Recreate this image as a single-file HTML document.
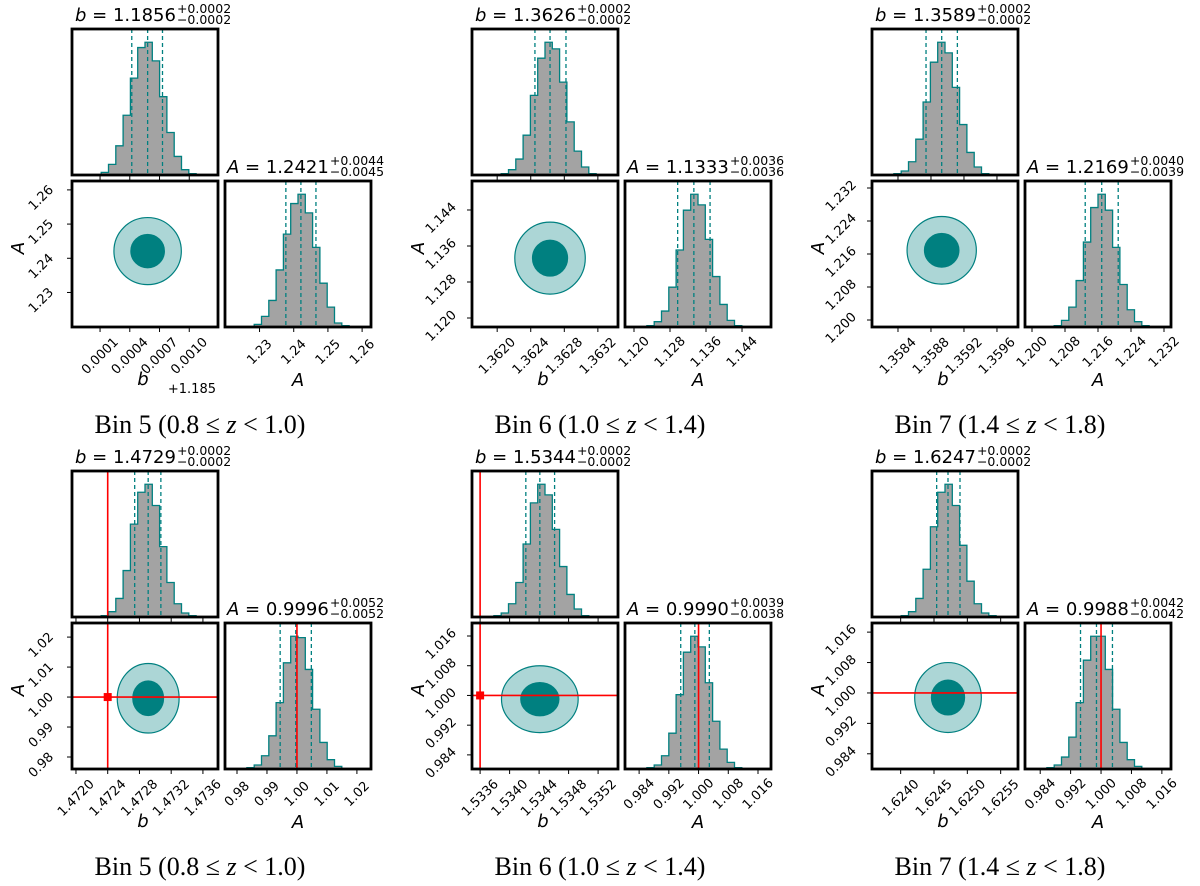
<!DOCTYPE html>
<html><head><meta charset="utf-8">
<style>
html,body{margin:0;padding:0;background:#fff;}
svg{display:block;}
text{font-family:"DejaVu Sans","Liberation Sans",sans-serif;}
.bin{font-family:"Liberation Serif",serif;font-size:26px;}
</style></head>
<body>
<svg id="fig" width="1200" height="886" viewBox="0 0 1200 886" xmlns="http://www.w3.org/2000/svg"></svg>
<script>
// ---- data (per panel) ----
const panelNames = ["bin5-a","bin6-a","bin7-a","bin5-b","bin6-b","bin7-b"];
const binLabels = [["Bin 5 (0.8 ≤ ","z"," < 1.0)"],["Bin 6 (1.0 ≤ ","z"," < 1.4)"],["Bin 7 (1.4 ≤ ","z"," < 1.8)"],["Bin 5 (0.8 ≤ ","z"," < 1.0)"],["Bin 6 (1.0 ≤ ","z"," < 1.4)"],["Bin 7 (1.4 ≤ ","z"," < 1.8)"]];
const bDomains = [[1.184817,1.18629],[1.3617,1.36344],[1.358085,1.359855],[1.47195,1.47379],[1.53349,1.53547],[1.62357,1.62576]];
const aDomains = [[1.2199,1.2626],[1.118,1.15044],[1.1983,1.2337],[0.976,1.0247],[0.9802,1.0195],[0.980,1.0184]];
const bTicks = [[1.1851,1.1854,1.1857,1.1860],[1.3620,1.3624,1.3628,1.3632],[1.3584,1.3588,1.3592,1.3596],[1.4720,1.4724,1.4728,1.4732,1.4736],[1.5336,1.5340,1.5344,1.5348,1.5352],[1.6240,1.6245,1.6250,1.6255]];
const bTickLabels = [["0.0001","0.0004","0.0007","0.0010"],["1.3620","1.3624","1.3628","1.3632"],["1.3584","1.3588","1.3592","1.3596"],["1.4720","1.4724","1.4728","1.4732","1.4736"],["1.5336","1.5340","1.5344","1.5348","1.5352"],["1.6240","1.6245","1.6250","1.6255"]];
const bOffsetText = ["+1.185","","","","",""];
const aTicks = [[1.23,1.24,1.25,1.26],[1.120,1.128,1.136,1.144],[1.200,1.208,1.216,1.224,1.232],[0.98,0.99,1.00,1.01,1.02],[0.984,0.992,1.000,1.008,1.016],[0.984,0.992,1.000,1.008,1.016]];
const aTickLabels = [["1.23","1.24","1.25","1.26"],["1.120","1.128","1.136","1.144"],["1.200","1.208","1.216","1.224","1.232"],["0.98","0.99","1.00","1.01","1.02"],["0.984","0.992","1.000","1.008","1.016"],["0.984","0.992","1.000","1.008","1.016"]];
const bQuantiles = [[1.18542,1.18558,1.18573],[1.36245,1.36263,1.36282],[1.35874,1.35893,1.35912],[1.47274,1.47291,1.47307],[1.53422,1.53441,1.53461],[1.62454,1.62471,1.62489]];
const aQuantiles = [[1.2377,1.2421,1.2465],[1.1297,1.1333,1.1369],[1.2129,1.2169,1.2209],[0.9944,0.9996,1.0048],[0.9952,0.9990,1.0029],[0.9946,0.9988,1.0030]];
const bTitles = [["1.1856","+0.0002","−0.0002"],["1.3626","+0.0002","−0.0002"],["1.3589","+0.0002","−0.0002"],["1.4729","+0.0002","−0.0002"],["1.5344","+0.0002","−0.0002"],["1.6247","+0.0002","−0.0002"]];
const aTitles = [["1.2421","+0.0044","−0.0045"],["1.1333","+0.0036","−0.0036"],["1.2169","+0.0040","−0.0039"],["0.9996","+0.0052","−0.0052"],["0.9990","+0.0039","−0.0038"],["0.9988","+0.0042","−0.0042"]];
const contourB = [0.00017,0.00021,0.00021,0.000195,0.00026,0.00025];
const contourA = [0.0049,0.0040,0.0041,0.0058,0.0045,0.0046];
const truthB = [null,null,null,1.47240,1.53360,null];
const truthA = [null,null,null,1.000,1.000,1.000];
const hist_b_p1 = [0,0,0,0,2,8,22,45,73,96,100,86,59,32,14,4,1,0,0,0];
const hist_a_p1 = [0,0,0,0,2,8,20,43,70,93,100,86,60,33,15,3,1,0,0,0];
const hist_b_p2 = [0,0,0,0,1,4,12,30,60,88,100,95,70,40,18,6,1,0,0,0];
const hist_a_p2 = [0,0,0,1,4,12,30,58,88,100,92,66,38,17,5,1,0,0,0,0];
const hist_b_p3 = [0,0,0,1,3,10,27,55,85,100,92,66,38,17,6,1,0,0,0,0];
const hist_a_p3 = [0,0,0,0,1,5,15,35,64,90,100,88,60,32,13,4,1,0,0,0];
const hist_b_p4 = [0,0,0,0,1,4,14,35,70,94,100,84,53,26,10,3,1,0,0,0];
const hist_a_p4 = [0,0,0,1,3,10,25,50,80,100,99,75,45,20,7,2,0,0,0,0];
const hist_b_p5 = [0,0,0,1,3,10,26,55,86,100,92,66,38,17,6,1,0,0,0,0];
const hist_a_p5 = [0,0,0,1,3,10,27,56,88,100,92,65,36,15,5,1,0,0,0,0];
const hist_b_p6 = [0,0,0,0,1,4,14,36,68,94,100,84,54,27,10,3,1,0,0,0];
const hist_a_p6 = [0,0,0,1,3,9,24,50,82,100,100,75,45,20,7,2,0,0,0,0];
const histB = [hist_b_p1,hist_b_p2,hist_b_p3,hist_b_p4,hist_b_p5,hist_b_p6];
const histA = [hist_a_p1,hist_a_p2,hist_a_p3,hist_a_p4,hist_a_p5,hist_a_p6];

// ---- drawing ----
const NS="http://www.w3.org/2000/svg";
const svg=document.getElementById('fig');
const TEAL="#008080", RED="#ff0000";
const TICKFS=13;
function mk(tag,attrs,parent){const e=document.createElementNS(NS,tag);for(const k in attrs)e.setAttribute(k,attrs[k]);(parent||svg).appendChild(e);return e;}
function scale(d,r){return v=>r[0]+(v-d[0])/(d[1]-d[0])*(r[1]-r[0]);}

function drawHist(g,counts,dom,x0,y0,w,h,clipId){
  const sx=scale([0,counts.length],[x0,x0+w]);
  const mx=Math.max(...counts)*1.1;
  const sy=v=>y0+h-v/mx*h;
  let d=`M${sx(0)},${y0+h}`;
  counts.forEach((c,i)=>{d+=` L${sx(i)},${sy(c)} L${sx(i+1)},${sy(c)}`;});
  d+=` L${sx(counts.length)},${y0+h} Z`;
  const f=mk('path',{d:d,fill:'#a3a3a3',stroke:'none','clip-path':`url(#${clipId})`},g);
  
  
  let d2=''; let started=false;
  counts.forEach((c,i)=>{ if(c>0){ if(!started){d2+=`M${sx(i)},${y0+h}`;started=true;} d2+=` L${sx(i)},${sy(c)} L${sx(i+1)},${sy(c)}`; if(i+1>=counts.length||counts[i+1]===0) {d2+=` L${sx(i+1)},${y0+h}`;started=false;} }});
  const s=mk('path',{d:d2,fill:'none',stroke:TEAL,'stroke-width':1.3,'clip-path':`url(#${clipId})`},g);
  
  
}
function vdash(g,x,y0,h){const l=mk('line',{x1:x,x2:x,y1:y0,y2:y0+h,stroke:TEAL,'stroke-width':1.3,'stroke-dasharray':'4,3'},g);
  
  }
function box(g,x,y,w,h,name){const r=mk('rect',{x:x,y:y,width:w,height:h,fill:'none',stroke:'#000','stroke-width':2.8},g);
  
  }
function title(g,x,y,sym,vals,name){
  const t=mk('text',{x:x,y:y,'font-size':18},g);
  
  
  const s1=mk('tspan',{'font-style':'italic'},t); s1.textContent=sym;
  const s2=mk('tspan',{},t); s2.textContent=' = '+vals[0];
  const L=t.getComputedTextLength();
  const sp=mk('text',{x:x+L+1,y:y-8,'font-size':12.5},g); sp.textContent=vals[1];
  
  
  const sb=mk('text',{x:x+L+1,y:y+3,'font-size':12.5},g); sb.textContent=vals[2];
  
  
}

for(let p=0;p<6;p++){
  const ox=(p%3)*400, oy=Math.floor(p/3)*442;
  const g=mk('g',{});
  
  
  const W=146,H=146;
  const tx=72+ox, ty=29+oy;
  const cx=72+ox, cy=181+oy;
  const rx=225+ox, ry=181+oy;
  const defs=mk('defs',{},g);
  [['t',tx,ty],['c',cx,cy],['r',rx,ry]].forEach(([k,x,y])=>{const cp=mk('clipPath',{id:`clip${k}${p}`},defs);mk('rect',{x:x,y:y,width:W,height:H},cp);});
  const sB=scale(bDomains[p],[tx,tx+W]);
  const sA=scale(aDomains[p],[cy+H,cy]);
  const sAx=scale(aDomains[p],[rx,rx+W]);

  drawHist(g,histB[p],bDomains[p],tx,ty,W,H,`clipt${p}`);
  bQuantiles[p].forEach(q=>vdash(g,sB(q),ty,H));
  if(truthB[p]!==null){const l=mk('line',{x1:sB(truthB[p]),x2:sB(truthB[p]),y1:ty,y2:ty+H,stroke:RED,'stroke-width':1.6,'clip-path':`url(#clipt${p})`},g);
    
    }
  box(g,tx,ty,W,H,'b-histogram-frame');
  bTicks[p].forEach(v=>mk('line',{x1:sB(v),x2:sB(v),y1:ty+H,y2:ty+H+5,stroke:'#000','stroke-width':1},g));
  title(g,tx+3,ty-8,'b',bTitles[p],'b-title');

  const bc=bQuantiles[p][1], ac=aQuantiles[p][1];
  const pxB=W/(bDomains[p][1]-bDomains[p][0]), pxA=H/(aDomains[p][1]-aDomains[p][0]);
  const outer=mk('ellipse',{cx:sB(bc),cy:sA(ac),rx:2*contourB[p]*pxB,ry:2*contourA[p]*pxA,fill:'#acd6d6',stroke:TEAL,'stroke-width':1.2},g);
  
  
  const inner=mk('ellipse',{cx:sB(bc),cy:sA(ac),rx:contourB[p]*pxB,ry:contourA[p]*pxA,fill:TEAL,stroke:TEAL,'stroke-width':1},g);
  
  
  if(truthB[p]!==null){const l=mk('line',{x1:sB(truthB[p]),x2:sB(truthB[p]),y1:cy,y2:cy+H,stroke:RED,'stroke-width':1.6},g);
    
    }
  if(truthA[p]!==null){const l=mk('line',{x1:cx,x2:cx+W,y1:sA(truthA[p]),y2:sA(truthA[p]),stroke:RED,'stroke-width':1.6},g);
    
    }
  if(truthB[p]!==null&&truthA[p]!==null){const m=mk('rect',{x:sB(truthB[p])-4,y:sA(truthA[p])-4,width:8,height:8,fill:RED},g);
    
    }
  box(g,cx,cy,W,H,'joint-frame');
  bTicks[p].forEach((v,i)=>{
    mk('line',{x1:sB(v),x2:sB(v),y1:cy+H,y2:cy+H+5,stroke:'#000','stroke-width':1},g);
    const X=sB(v),Y=cy+H+29;
    const t=mk('text',{x:X,y:Y+4,'font-size':TICKFS,'text-anchor':'middle',transform:`rotate(-45 ${X} ${Y})`},g);
    t.textContent=bTickLabels[p][i];
    
    
  });
  aTicks[p].forEach((v,i)=>{
    mk('line',{x1:cx-5,x2:cx,y1:sA(v),y2:sA(v),stroke:'#000','stroke-width':1},g);
    const X=cx-31,Y=sA(v)+8;
    const t=mk('text',{x:X,y:Y+4,'font-size':TICKFS,'text-anchor':'middle',transform:`rotate(-45 ${X} ${Y})`},g);
    t.textContent=aTickLabels[p][i];
    
    
  });
  const xl=mk('text',{x:cx+W/2-2,y:cy+H+58,'font-size':18,'font-style':'italic','text-anchor':'middle'},g);
  xl.textContent='b';
  
  
  const yl=mk('text',{x:ox+28,y:cy+H/2+2,'font-size':18,'font-style':'italic','text-anchor':'middle',transform:`rotate(-90 ${ox+22} ${cy+H/2})`},g);
  yl.textContent='A';
  
  
  if(bOffsetText[p]){const o=mk('text',{x:cx+H-2,y:cy+H+66,'font-size':TICKFS,'text-anchor':'end'},g);
    o.textContent=bOffsetText[p];
    
    }

  drawHist(g,histA[p],aDomains[p],rx,ry,W,H,`clipr${p}`);
  aQuantiles[p].forEach(q=>vdash(g,sAx(q),ry,H));
  if(truthA[p]!==null){const l=mk('line',{x1:sAx(truthA[p]),x2:sAx(truthA[p]),y1:ry,y2:ry+H,stroke:RED,'stroke-width':1.6},g);
    
    }
  box(g,rx,ry,W,H,'a-histogram-frame');
  aTicks[p].forEach((v,i)=>{
    mk('line',{x1:sAx(v),x2:sAx(v),y1:ry+H,y2:ry+H+5,stroke:'#000','stroke-width':1},g);
    const X=sAx(v),Y=ry+H+25;
    const t=mk('text',{x:X,y:Y+4,'font-size':TICKFS,'text-anchor':'middle',transform:`rotate(-45 ${X} ${Y})`},g);
    t.textContent=aTickLabels[p][i];
    
    
  });
  const al=mk('text',{x:rx+W/2,y:ry+H+59,'font-size':18,'font-style':'italic','text-anchor':'middle'},g);
  al.textContent='A';
  
  
  title(g,rx+2,ry-8,'A',aTitles[p],'a-title');

  const bl=mk('text',{x:200+ox,y:433+oy,'text-anchor':'middle',class:'bin'},g);
  
  
  const c0=mk('tspan',{},bl); c0.textContent=binLabels[p][0];
  const c1=mk('tspan',{'font-style':'italic'},bl); c1.textContent=binLabels[p][1];
  const c2=mk('tspan',{},bl); c2.textContent=binLabels[p][2];
}
</script>
</body></html>
